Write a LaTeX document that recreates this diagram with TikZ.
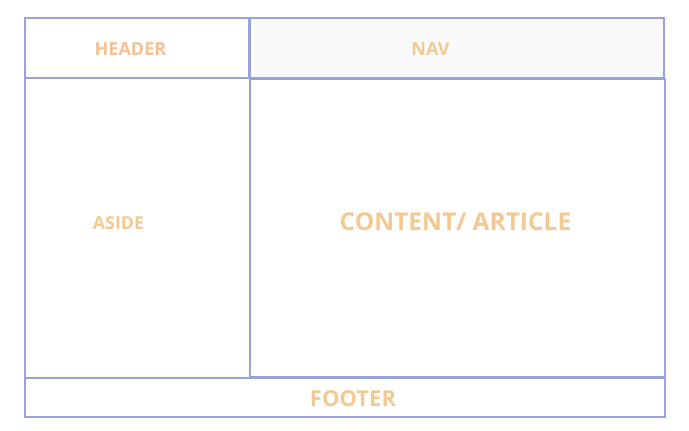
\documentclass[tikz,border=0pt]{standalone}
\usepackage{fontspec}
\setmainfont{Open Sans}
\definecolor{edge}{HTML}{9AA3D9}
\definecolor{peach}{HTML}{F6C092}
\definecolor{sand}{HTML}{F3C991}
\definecolor{navfill}{HTML}{FAFAFA}
\tikzset{
  box/.style={draw=edge, line width=2pt, inner sep=0pt, outer sep=0pt, anchor=north west},
  lbl/.style={inner sep=0pt, font=\bfseries},
}
\begin{document}
\begin{tikzpicture}[x=1pt,y=-1pt]
\useasboundingbox (0,0) rectangle (689,431);
\node[box, minimum width=224pt, minimum height=60.5pt] (header) at (25,17.5) {};
\node[box, fill=navfill, minimum width=414pt, minimum height=60pt] (nav) at (250,18) {};
\node[box, minimum width=224.5pt, minimum height=299.5pt] (aside) at (25,78) {};
\node[box, minimum width=415pt, minimum height=298pt] (content) at (250,79) {};
\node[box, minimum width=640pt, minimum height=39pt] (footer) at (25,378) {};
\node[lbl, text=peach, font=\bfseries\fontsize{18}{21}\selectfont] (th) at (130.5,49.5) {HEADER};
\node[lbl, text=sand, font=\bfseries\fontsize{18}{21}\selectfont] (tn) at (430.5,49.5) {NAV};
\node[lbl, text=sand, font=\bfseries\fontsize{17.8}{21}\selectfont] (ta) at (118.5,223.5) {ASIDE};
\node[lbl, text=sand, font=\bfseries\fontsize{24.5}{29}\selectfont] (tc) at (455.5,221.5) {CONTENT/ ARTICLE};
\node[lbl, text=sand, font=\bfseries\fontsize{22}{26}\selectfont] (tf) at (353,398.5) {FOOTER};
\end{tikzpicture}
\end{document}
